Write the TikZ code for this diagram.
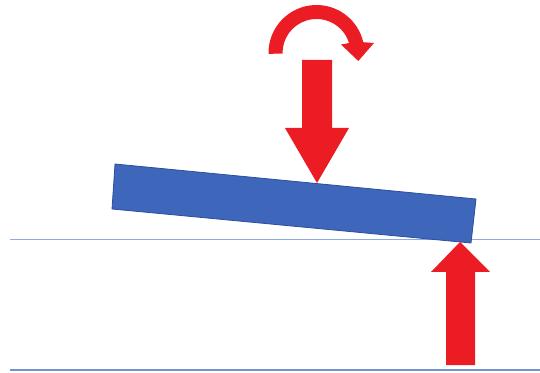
\documentclass[tikz,border=0pt]{standalone}
\usetikzlibrary{calc}
\definecolor{arrowred}{HTML}{EC1C24}
\definecolor{beamblue}{HTML}{3E66BA}
\definecolor{beamedge}{HTML}{2C4E9E}
\definecolor{lineblue}{HTML}{8FAADC}
\definecolor{linedark}{HTML}{7393CC}
\tikzset{
  force/.style={fill=arrowred, draw=none},
  beam/.style={fill=beamblue, draw=beamedge, line width=0.8pt, line join=miter},
  ground/.style={draw=lineblue, line width=1.3pt},
}
\begin{document}
\begin{tikzpicture}[x=1pt,y=1pt]
\useasboundingbox (0,0) rectangle (540,372);
% reference lines
\coordinate (g1a) at (10,132.5);
\coordinate (g1b) at (540,132.5);
\coordinate (g2a) at (10,2);
\coordinate (g2b) at (540,2);
\draw[ground] (g1a) -- (g1b);
\draw[ground, draw=linedark, line width=1.6pt] (g2a) -- (g2b);
% beam
\draw[beam] (115,208) -- (476,173) -- (471,129) -- (112,163) -- cycle;
% downward force
\fill[force] (302,312) -- (332,312) -- (332,244) -- (349,244) -- (317,189)
  -- (285,244) -- (302,244) -- cycle;
% upward force
\fill[force] (446,7) -- (475,7) -- (475,100) -- (490,100) -- (460,130)
  -- (431,100) -- (446,100) -- cycle;
% moment arrow
\begin{scope}[shift={(316.5,319)}]
\fill[force] (181:48) arc[start angle=181, end angle=13, radius=48]
  -- (57.5,10) -- (41.8,-8) -- (24.5,8.5) -- (17:34)
  arc[start angle=17, end angle=181, radius=34] -- cycle;
\end{scope}
\end{tikzpicture}
\end{document}
